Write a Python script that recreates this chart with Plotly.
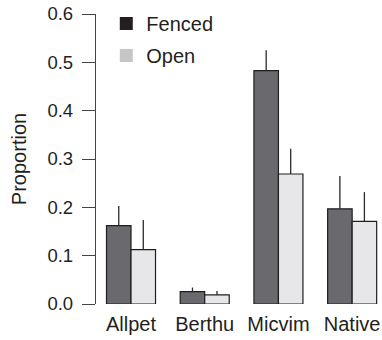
import plotly.graph_objects as go

categories = ["Allpet", "Berthu", "Micvim", "Native"]
fenced = [0.162, 0.0255, 0.483, 0.197]
fenced_err = [0.041, 0.0085, 0.042, 0.068]
open_ = [0.1125, 0.019, 0.269, 0.171]
open_err = [0.0615, 0.008, 0.052, 0.0605]
y_ticks = [0.0, 0.1, 0.2, 0.3, 0.4, 0.5, 0.6]

FONT = "Liberation Sans, Arial, Helvetica, sans-serif"
TXT = "#231f20"

fig = go.Figure()
fig.add_trace(go.Bar(
    x=categories, y=fenced, name="Fenced", showlegend=False,
    marker=dict(color="#6a6a6e", line=dict(color="#1e1e1e", width=1.2)),
    error_y=dict(type="data", array=fenced_err, arrayminus=[0] * 4, symmetric=False,
                 width=0, thickness=1.3, color="#2a2a2a"),
))
fig.add_trace(go.Bar(
    x=categories, y=open_, name="Open", showlegend=False,
    marker=dict(color="#e7e7e9", line=dict(color="#1e1e1e", width=1.2)),
    error_y=dict(type="data", array=open_err, arrayminus=[0] * 4, symmetric=False,
                 width=0, thickness=1.3, color="#2a2a2a"),
))
# legend-only entries
fig.add_trace(go.Scatter(x=[None], y=[None], mode="markers", name="Fenced",
                         marker=dict(symbol="square", size=13, color="#231f20"),
                         legend="legend"))
fig.add_trace(go.Scatter(x=[None], y=[None], mode="markers", name="Open",
                         marker=dict(symbol="square", size=13, color="#c6c6c8"),
                         legend="legend2"))

fig.update_layout(
    width=382, height=340,
    margin=dict(l=96, r=0, t=14, b=36, autoexpand=False),
    paper_bgcolor="white", plot_bgcolor="white",
    font=dict(family=FONT, size=20, color=TXT),
    barmode="group", bargap=0.335, bargroupgap=0,
    legend=dict(x=0.036, y=0.967, xanchor="left", yanchor="middle",
                bgcolor="rgba(0,0,0,0)", font=dict(size=20, color=TXT)),
    legend2=dict(x=0.036, y=0.857, xanchor="left", yanchor="middle",
                 bgcolor="rgba(0,0,0,0)", font=dict(size=20, color=TXT)),
    xaxis=dict(type="category", range=[-0.475, 3.405], showline=False, ticks="",
               showgrid=False, zeroline=False, automargin=False, ticklabelstandoff=6,
               tickfont=dict(size=20, color=TXT)),
    yaxis=dict(range=[0, 0.6], tickvals=y_ticks, tickformat=".1f",
               ticks="outside", ticklen=13, tickwidth=1.3, tickcolor="#444",
               showline=True, linecolor="#444", linewidth=1.3, automargin=False,
               showgrid=False, zeroline=False, ticklabelstandoff=5,
               tickfont=dict(size=18.5, color=TXT),
               title=dict(text="Proportion", font=dict(size=20, color=TXT), standoff=15)),
)

fig.write_html("out.html", config={"displayModeBar": False},
               post_script="document.body.style.margin='0';document.body.style.padding='0';")
